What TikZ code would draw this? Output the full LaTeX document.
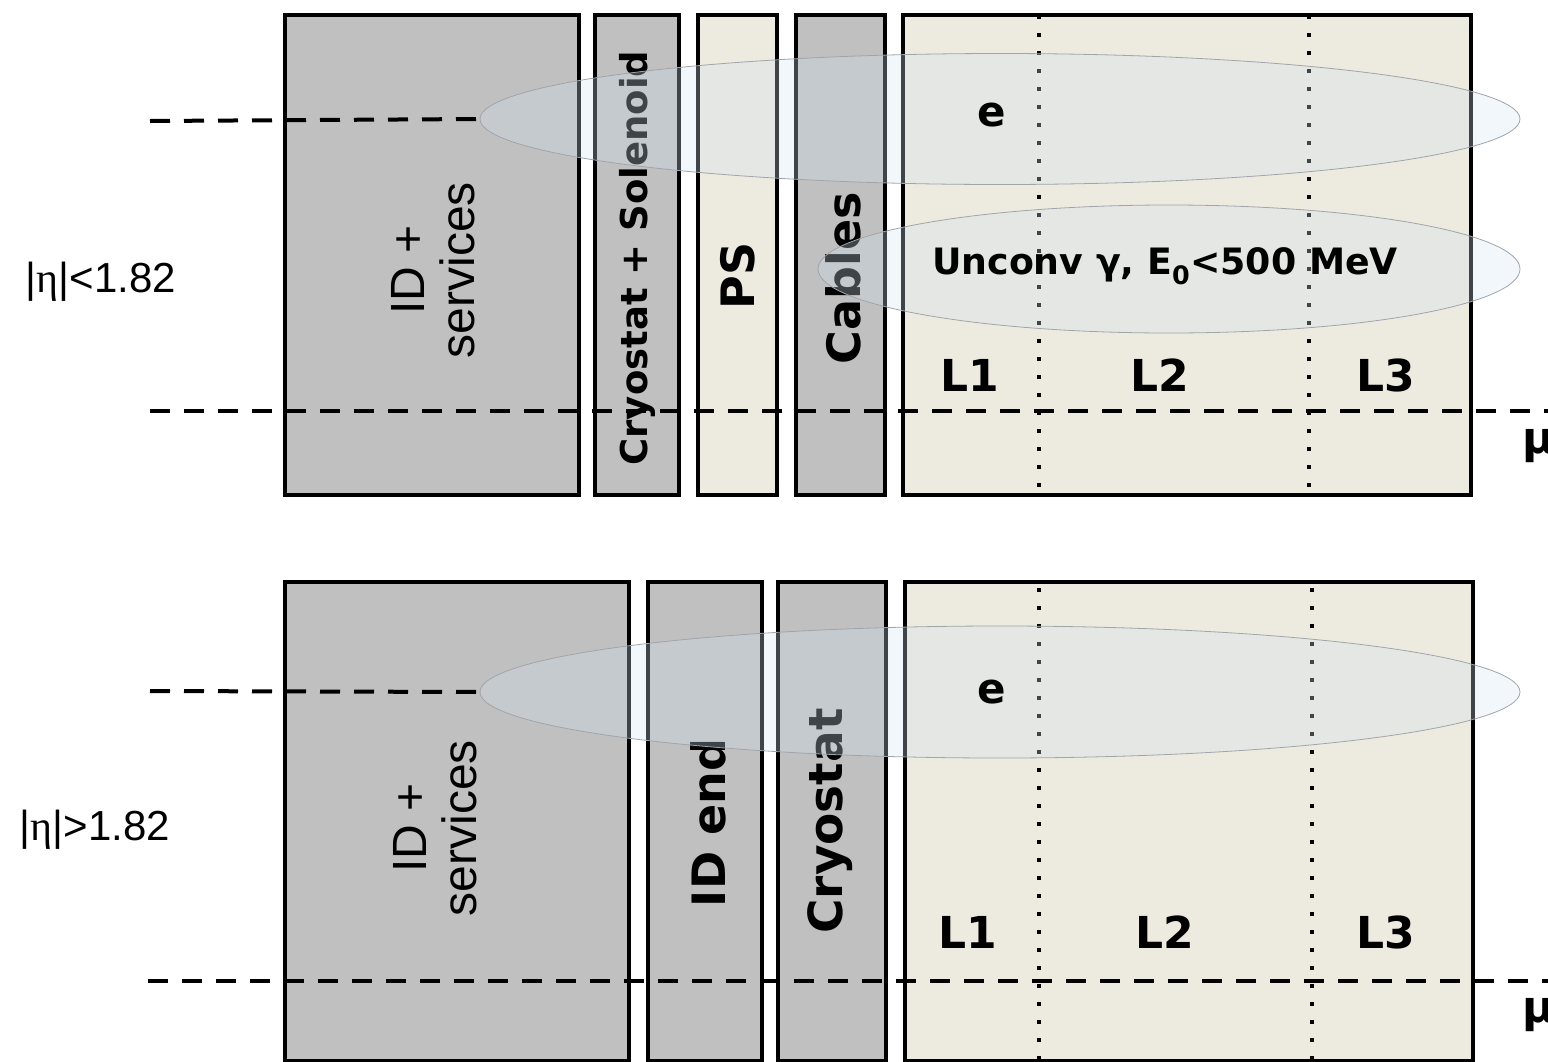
\documentclass[tikz,border=0pt]{standalone}
\usepackage{fontspec}
\setmainfont{DejaVu Sans}
\newfontfamily\arialf{Liberation Sans}
\newfontfamily\serifg{Liberation Serif}
\usetikzlibrary{shapes.geometric}
\definecolor{boxgray}{RGB}{192,192,192}
\definecolor{beige}{RGB}{237,234,224}
\definecolor{ellfill}{RGB}{208,227,240}
\definecolor{ellline}{RGB}{160,165,170}
\tikzset{
  gbox/.style={draw=black, line width=4pt, fill=boxgray, anchor=north west, inner sep=0pt},
  bbox/.style={draw=black, line width=4pt, fill=beige, anchor=north west, inner sep=0pt},
  dashline/.style={line width=4pt, dash pattern=on 20pt off 14pt},
  dotline/.style={line width=4pt, dash pattern=on 4pt off 14pt},
  showerell/.style={ellipse, draw=ellline, line width=0.8pt, fill=ellfill, fill opacity=0.3, inner sep=0pt},
  boldlab/.style={font=\bfseries\fontsize{44}{48}\selectfont, inner sep=0pt},
  rotlab/.style={font=\bfseries\fontsize{#1}{#1}\selectfont, rotate=90, inner sep=0pt},
  arlab/.style={font=\arialf\fontsize{48}{50}\selectfont, rotate=90, align=center, inner sep=0pt},
  etalab/.style={font=\arialf\fontsize{42}{44}\selectfont, inner sep=0pt}
}
\begin{document}
\begin{tikzpicture}[x=1pt,y=-1pt]
\useasboundingbox (0,0) rectangle (1548,1061);
% ================= top panel =================
\node[gbox, minimum width=294pt, minimum height=480pt] (idT) at (283,13) {};
\node[gbox, minimum width=84pt, minimum height=480pt] (cryoT) at (593,13) {};
\node[bbox, minimum width=79pt, minimum height=480pt] (psT) at (696,13) {};
\node[gbox, minimum width=89pt, minimum height=480pt] (cabT) at (794,13) {};
\node[bbox, minimum width=568pt, minimum height=480pt] (calT) at (901,13) {};
\coordinate (d1Ta) at (1039,15); \coordinate (d1Tb) at (1039,493);
\coordinate (d2Ta) at (1309,15); \coordinate (d2Tb) at (1309,493);
\draw[dotline] (d1Ta) -- (d1Tb);
\draw[dotline] (d2Ta) -- (d2Tb);
\node[arlab] (idTl) at (433,270) {ID +\\services};
\node[rotlab=37] (cryoTl) at (637,258) {Cryostat + Solenoid};
\node[rotlab=46] (psTl) at (738,276) {PS};
\node[rotlab=46] (cabTl) at (843,278) {Cables};
\node[boldlab] (l1T) at (970,375) {L1};
\node[boldlab] (l2T) at (1160,375) {L2};
\node[boldlab] (l3T) at (1386,375) {L3};
\node[showerell, minimum width=1040pt, minimum height=131pt] (eT) at (1000,119) {};
\node[showerell, minimum width=702pt, minimum height=128pt] (gT) at (1169,269) {};
\node[font=\bfseries\fontsize{42}{44}\selectfont, inner sep=0pt] (eTl) at (992,115) {e};
\node[font=\bfseries\fontsize{36.3}{40}\selectfont, inner sep=0pt] (gTl) at (1165,266) {Unconv γ, E\textsubscript{0}<500 MeV};
\coordinate (dTa) at (150,121);
\draw[dashline] (dTa) -- (eT.west);
\coordinate (dTb) at (150,411); \coordinate (dTc) at (1560,411);
\draw[dashline] (dTb) -- (dTc);
\node[etalab] (etaT) at (101,282) {|{\serifg η}|<1.82};
\node[font=\bfseries\fontsize{44}{48}\selectfont, anchor=west, inner sep=0pt] (muT) at (1522,446) {μ};
% ================= bottom panel =================
\node[gbox, minimum width=344pt, minimum height=479pt] (idB) at (283,580) {};
\node[gbox, minimum width=114pt, minimum height=479pt] (idendB) at (646,580) {};
\node[gbox, minimum width=108pt, minimum height=479pt] (cryoB) at (776,580) {};
\node[bbox, minimum width=568pt, minimum height=479pt] (calB) at (903,580) {};
\coordinate (d1Ba) at (1039,588); \coordinate (d1Bb) at (1039,1059);
\coordinate (d2Ba) at (1312,588); \coordinate (d2Bb) at (1312,1059);
\draw[dotline] (d1Ba) -- (d1Bb);
\draw[dotline] (d2Ba) -- (d2Bb);
\node[arlab] (idBl) at (435,828) {ID +\\services};
\node[rotlab=46] (idendBl) at (708,823) {ID end};
\node[rotlab=47] (cryoBl) at (830,821) {Cryostat};
\node[boldlab] (l1B) at (968,932) {L1};
\node[boldlab] (l2B) at (1165,932) {L2};
\node[boldlab] (l3B) at (1386,932) {L3};
\node[showerell, minimum width=1040pt, minimum height=132pt] (eB) at (1000,692) {};
\node[font=\bfseries\fontsize{42}{44}\selectfont, inner sep=0pt] (eBl) at (992,692) {e};
\coordinate (dBa) at (150,691);
\draw[dashline] (dBa) -- (eB.west);
\coordinate (dBb) at (148,981); \coordinate (dBc) at (1560,981);
\draw[dashline] (dBb) -- (dBc);
\node[etalab] (etaB) at (95,830) {|{\serifg η}|>1.82};
\node[font=\bfseries\fontsize{44}{48}\selectfont, anchor=west, inner sep=0pt] (muB) at (1522,1015) {μ};
\end{tikzpicture}
\end{document}
